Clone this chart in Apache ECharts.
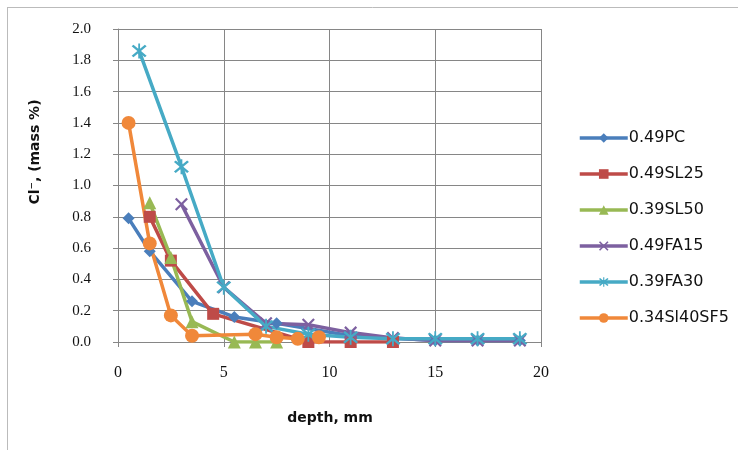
<!DOCTYPE html>
<html>
<head>
<meta charset="utf-8">
<script src="https://cdn.jsdelivr.net/npm/echarts@6/dist/echarts.min.js"></script>
<style>html,body{margin:0;padding:0;background:#fff;}#c{width:738px;height:450px;}</style>
</head>
<body>
<div id="c"></div>
<script>
// Data: [depth mm, Cl- mass %]
var seriesNames = ['0.49PC', '0.49SL25', '0.39SL50', '0.49FA15', '0.39FA30', '0.34Sl40SF5'];
var pc49 = [[0.5,0.79],[1.5,0.58],[3.5,0.26],[5.5,0.16],[7.5,0.12],[11,0.04],[15,0.01],[17,0.01],[19,0.01]];
var sl25 = [[1.5,0.80],[2.5,0.52],[4.5,0.18],[9,0.0],[11,0.0],[13,0.0]];
var sl50 = [[1.5,0.89],[2.5,0.54],[3.5,0.13],[5.5,0.0],[6.5,0.0],[7.5,0.0]];
var fa15 = [[3,0.88],[5,0.35],[7,0.12],[9,0.11],[11,0.06],[13,0.025],[15,0.01],[17,0.01],[19,0.01]];
var fa30 = [[1,1.86],[3,1.12],[5,0.35],[7,0.10],[9,0.05],[11,0.03],[13,0.02],[15,0.02],[17,0.02],[19,0.02]];
var sf5 = [[0.5,1.40],[1.5,0.63],[2.5,0.17],[3.5,0.04],[6.5,0.05],[7.5,0.03],[8.5,0.02],[9.5,0.03]];
var xTicks = [0, 5, 10, 15, 20];
var yTicks = [0.0, 0.2, 0.4, 0.6, 0.8, 1.0, 1.2, 1.4, 1.6, 1.8, 2.0];

var colors = ['#4A7EBB', '#BE4B48', '#98B954', '#7D60A0', '#46AAC5', '#F0883A'];
var crossPath = 'path://M0,1.2L1.2,0L10,8.8L8.8,10Z M8.8,0L10,1.2L1.2,10L0,8.8Z';
var starPath = 'path://M0,1.2L1.2,0L10,8.8L8.8,10Z M8.8,0L10,1.2L1.2,10L0,8.8Z M4.4,-1L5.6,-1L5.6,11L4.4,11Z';
var symbols = ['diamond', 'rect', 'triangle', crossPath, starPath, 'circle'];
var sizes = [12, 12, 13, 13, 15, 14];
var datasets = [pc49, sl25, sl50, fa15, fa30, sf5];

var series = datasets.map(function (d, i) {
  return {
    name: seriesNames[i],
    type: 'line',
    data: d,
    symbol: symbols[i],
    symbolSize: sizes[i],
    showAllSymbol: true,
    lineStyle: { color: colors[i], width: 3.5 },
    itemStyle: { color: colors[i] },
    animation: false
  };
});

var chart = echarts.init(document.getElementById('c'), null, { renderer: 'canvas' });
chart.setOption({
  backgroundColor: '#fff',
  animation: false,
  grid: { left: 118, right: 197, top: 29, bottom: 108 },
  xAxis: {
    type: 'value', min: xTicks[0], max: xTicks[xTicks.length - 1], interval: 5,
    axisLine: { lineStyle: { color: '#868686', width: 1 } },
    axisTick: { show: true, length: 5, lineStyle: { color: '#868686' } },
    splitLine: { show: true, lineStyle: { color: '#868686', width: 1 } },
    axisLabel: { color: '#111', fontFamily: 'Liberation Serif', fontSize: 16, margin: 23 }
  },
  yAxis: {
    type: 'value', min: yTicks[0], max: yTicks[yTicks.length - 1], interval: 0.2,
    axisLine: { show: true, lineStyle: { color: '#868686', width: 1 } },
    axisTick: { show: true, length: 5, lineStyle: { color: '#868686' } },
    splitLine: { show: true, lineStyle: { color: '#868686', width: 1 } },
    axisLabel: { color: '#111', fontFamily: 'Liberation Serif', fontSize: 15, margin: 27,
      formatter: function (v) { return v.toFixed(1); } }
  },
  legend: {
    orient: 'vertical', left: 578, top: 130, padding: 0,
    itemWidth: 48, itemHeight: 12, itemGap: 20,
    lineStyle: { width: 3.5 },
    textStyle: { fontFamily: 'DejaVu Sans', fontSize: 16, color: '#111', padding: [0,0,0,-4] },
    data: seriesNames
  },
  graphic: [
    { type: 'line', shape: { x1: 7, y1: 7.5, x2: 738, y2: 7.5 }, style: { stroke: '#bbbbbb', lineWidth: 1 } },
    { type: 'line', shape: { x1: 7.5, y1: 7, x2: 7.5, y2: 450 }, style: { stroke: '#bbbbbb', lineWidth: 1 } },
    { type: 'text', x: 35, y: 152, rotation: Math.PI / 2,
      style: { text: 'Cl\u207B, (mass %)', fontFamily: 'DejaVu Sans', fontWeight: 'bold', fontSize: 14,
        fill: '#111', textAlign: 'center', textVerticalAlign: 'middle' } },
    { type: 'text', x: 330, y: 418,
      style: { text: 'depth, mm', fontFamily: 'DejaVu Sans', fontWeight: 'bold', fontSize: 14,
        fill: '#111', textAlign: 'center', textVerticalAlign: 'middle' } }
  ],
  series: series
});
</script>
</body>
</html>
